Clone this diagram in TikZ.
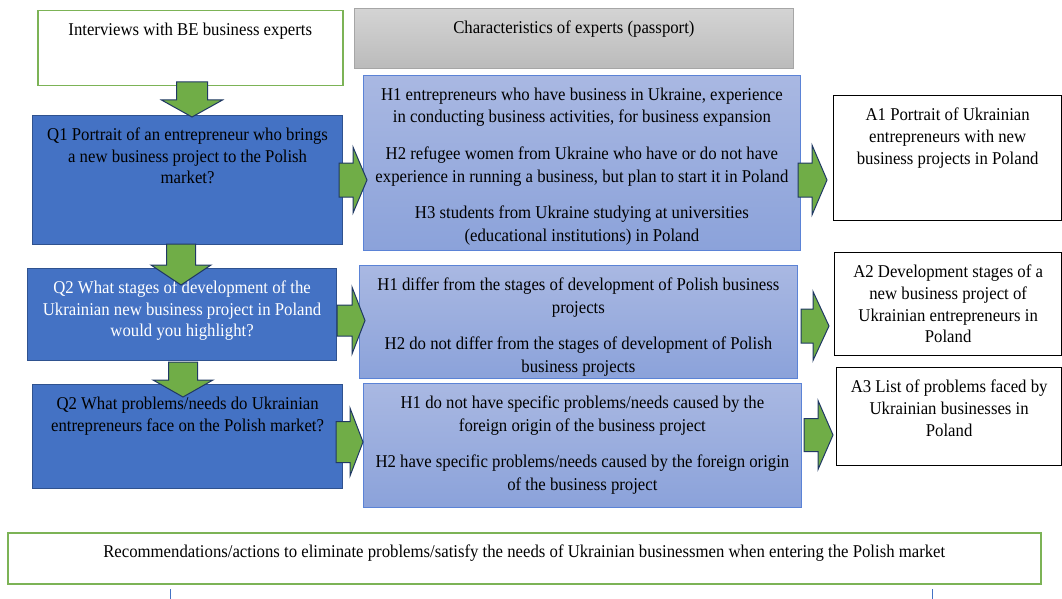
\documentclass[tikz,border=0pt]{standalone}
\usepackage{fontspec}
\setmainfont{Liberation Serif}[FakeStretch=0.93]

\definecolor{qblue}{HTML}{4472C4}
\definecolor{qedge}{HTML}{2F528F}
\definecolor{htop}{HTML}{A9B8E2}
\definecolor{hbot}{HTML}{8BA2DA}
\definecolor{hedge}{HTML}{5B83D6}
\definecolor{agreen}{HTML}{70AD47}
\definecolor{aedge}{HTML}{203864}
\definecolor{gtop}{HTML}{D4D4D4}
\definecolor{gbot}{HTML}{BBBBBB}
\definecolor{gedge}{HTML}{A6A6A6}
\definecolor{bgreen}{HTML}{7CB356}

\newcommand{\boxtext}[3]{\parbox[c][#2pt][t]{#1pt}{\centering\vspace*{12.5pt}#3\par}}

\tikzset{pics/blockarrow/.style args={#1/#2/#3/#4}{code={
  \draw[draw=aedge, fill=agreen, line width=1pt] (0,-#2) -- (#1-#4,-#2) -- (#1-#4,-#3) -- (#1,0)
    -- (#1-#4,#3) -- (#1-#4,#2) -- (0,#2) -- cycle;}}}

\begin{document}
\begin{tikzpicture}[x=1pt, y=-1pt,
  every node/.style={inner sep=0pt, anchor=north west, font=\fontsize{18}{21.6}\selectfont},
  greenbox/.style={draw=bgreen, line width=1.5pt, fill=white},
  graybox/.style={draw=gedge, line width=0.8pt, top color=gtop, bottom color=gbot},
  qbox/.style={draw=qedge, line width=1.2pt, fill=qblue},
  hbox/.style={draw=hedge, line width=0.8pt, top color=htop, bottom color=hbot,
    font=\fontsize{18}{22.6}\selectfont},
  abox/.style={draw=black, line width=1.3pt, fill=white}]
  \useasboundingbox (0,0) rectangle (1062,599);

  \node[greenbox] (intv) at (37,10) {\boxtext{305}{75}{Interviews with BE business experts}};
  \node[graybox] (pass) at (354,8) {\boxtext{439}{60}{Characteristics of experts (passport)}};

  \node[qbox] (q1) at (32,115) {\boxtext{310}{129}{Q1 Portrait of an entrepreneur who brings\\
    a new business project to the Polish\\ market?}};
  \node[qbox, text=white] (q2) at (27,268) {\boxtext{309}{92}{Q2 What stages of development of the\\
    Ukrainian new business project in Poland\\ would you highlight?}};
  \node[qbox] (q3) at (32,384) {\boxtext{310}{104}{Q2 What problems/needs do Ukrainian\\
    entrepreneurs face on the Polish market?}};

  \node[hbox] (h1) at (363,75) {\boxtext{437}{175}{H1 entrepreneurs who have business in Ukraine, experience\\
    in conducting business activities, for business expansion\\[14pt]
    H2 refugee women from Ukraine who have or do not have\\
    experience in running a business, but plan to start it in Poland\\[14pt]
    H3 students from Ukraine studying at universities\\
    (educational institutions) in Poland}};
  \node[hbox] (h2) at (359,265) {\boxtext{438}{113}{H1 differ from the stages of development of Polish business\\
    projects\\[14pt]
    H2 do not differ from the stages of development of Polish\\
    business projects}};
  \node[hbox] (h3) at (363,383) {\boxtext{438}{124}{H1 do not have specific problems/needs caused by the\\
    foreign origin of the business project\\[14pt]
    H2 have specific problems/needs caused by the foreign origin\\
    of the business project}};

  \node[abox] (a1) at (833,95) {\boxtext{228}{125}{A1 Portrait of Ukrainian\\ entrepreneurs with new\\
    business projects in Poland}};
  \node[abox] (a2) at (834,252) {\boxtext{227}{103}{A2 Development stages of a\\ new business project of\\
    Ukrainian entrepreneurs in\\ Poland}};
  \node[abox] (a3) at (836,367) {\boxtext{225}{98}{A3 List of problems faced by\\ Ukrainian businesses in\\ Poland}};

  \node[greenbox] (rec) at (7,532) {\boxtext{1033}{51}{Recommendations/actions to eliminate problems/satisfy the needs of Ukrainian businessmen when entering the Polish market}};

  \pic[rotate=-90] (d1) at (192,82) {blockarrow=35/15.5/30.5/17};
  \pic[rotate=-90] (d2) at (181,244) {blockarrow=41/14.5/30/20};
  \pic[rotate=-90] (d3) at (183,362) {blockarrow=35/14.5/30/17};
  \pic (r1) at (339,180) {blockarrow=28/17/33/14};
  \pic (r2) at (337,320.5) {blockarrow=28/15.5/33.5/13};
  \pic (r3) at (336,442) {blockarrow=27/20.5/34/13};
  \pic (r4) at (798,180) {blockarrow=29/17/35/15};
  \pic (r5) at (801,326) {blockarrow=28/17/34.5/16};
  \pic (r6) at (804,435) {blockarrow=29/16.5/34.5/15};

  \draw[qblue, line width=0.8pt] (170,589) -- (170,599) (932,589) -- (932,599);
\end{tikzpicture}
\end{document}
